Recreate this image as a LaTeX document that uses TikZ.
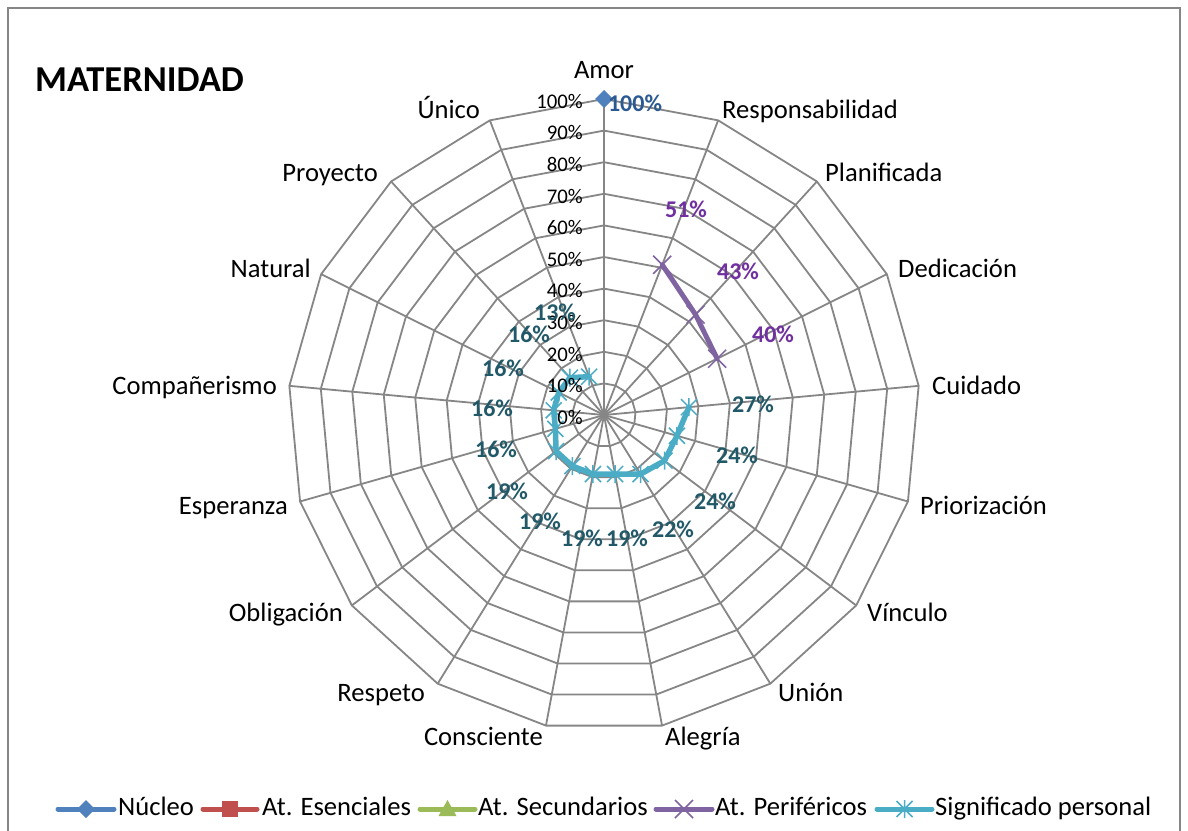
\documentclass[tikz,border=0pt]{standalone}
\usepackage{fontspec}
\setmainfont{Carlito}
\usetikzlibrary{calc}
\definecolor{gridc}{HTML}{868686}
\definecolor{nucleo}{HTML}{4F81BD}
\definecolor{esen}{HTML}{C0504D}
\definecolor{secu}{HTML}{9BBB59}
\definecolor{peri}{HTML}{8064A2}
\definecolor{sig}{HTML}{4BACC6}
\definecolor{nucleolbl}{HTML}{2B5A93}
\definecolor{perilbl}{HTML}{7030A0}
\definecolor{siglbl}{HTML}{215968}
\tikzset{
 pics/diam/.style={code={\fill[nucleo] (0,-9) -- (9,0) -- (0,9) -- (-9,0) -- cycle;}},
 pics/sqm/.style={code={\fill[esen] (-8,-8) rectangle (8,8);}},
 pics/trim/.style={code={\fill[secu] (0,-9) -- (9,7) -- (-9,7) -- cycle;}},
 pics/crossm/.style={code={\draw[peri,line width=1.5pt] (-9,-9) -- (9,9) (-9,9) -- (9,-9);}},
 pics/starm/.style={code={\draw[sig,line width=1.5pt] (-8,-8) -- (8,8) (-8,8) -- (8,-8) (0,-9) -- (0,9);}},
}
\begin{document}
\begin{tikzpicture}[x=1pt,y=-1pt,
  gridline/.style={draw=gridc,line width=1.8pt},
  cat/.style={inner sep=0pt,font=\fontsize{26.6}{30}\selectfont},
  pct/.style={inner sep=0pt,anchor=mid east,font=\fontsize{20.8}{24}\selectfont},
  val/.style={inner sep=0pt,font=\bfseries\fontsize{24}{28}\selectfont},
  leg/.style={inner sep=0pt,anchor=mid west,font=\fontsize{26.6}{30}\selectfont},
  perline/.style={draw=peri,line width=5pt,line join=round,line cap=round},
  sigline/.style={draw=sig,line width=5.5pt,line join=round,line cap=round},
  legline/.style={line width=5pt,line cap=round},
]
\useasboundingbox (0,0) rectangle (1188,830);
\fill[white] (0,0) rectangle (1188,830);
\draw[gridc,line width=1.8pt] (8,845) -- (8,8) -- (1180,8) -- (1180,845);

\node[inner sep=0pt,anchor=mid west,font=\bfseries\fontsize{36.5}{40}\selectfont] (title) at (35,89) {MATERNIDAD};

\begin{scope}[shift={(604,415)}]
  \coordinate (C) at (0,0);
  % grid polygons
  \foreach \lvl in {1,...,10} {
    \draw[gridline,line join=round] (-90:\lvl*31.6) \foreach \k in {1,...,16} { -- (\k*360/17-90:\lvl*31.6) } -- cycle;
  }
  % spokes
  \foreach \k in {0,...,16} { \draw[gridline] (C) -- (\k*360/17-90:316); }
  % data points
  \coordinate (n0) at (-90:316);
  \foreach \k/\v in {1/51,2/43,3/40} { \coordinate (p\k) at (\k*360/17-90:\v*3.16); }
  \foreach \k/\v in {4/27,5/24,6/24,7/22,8/19,9/19,10/19,11/19,12/16,13/16,14/16,15/16,16/13} { \coordinate (s\k) at (\k*360/17-90:\v*3.16); }
\end{scope}

% series
\draw[perline] (p1) -- (p2) -- (p3);
\draw[sigline] (s4) -- (s5) -- (s6) -- (s7) -- (s8) -- (s9) -- (s10) -- (s11) -- (s12) -- (s13) -- (s14) -- (s15) -- (s16);
\foreach \k in {1,2,3} { \pic at (p\k) {crossm}; }
\foreach \k in {4,...,16} { \pic at (s\k) {starm}; }
\pic at (n0) {diam};

% axis percentages
\foreach \i/\t in {0/0\%,1/10\%,2/20\%,3/30\%,4/40\%,5/50\%,6/60\%,7/70\%,8/80\%,9/90\%,10/100\%} {
  \node[pct] (ax\i) at (583,422-\i*31.6) {\t};
}

% category labels
\node[cat,anchor=mid] (amor) at (604,76) {Amor};
\node[cat,anchor=mid west] (resp) at (722,116) {Responsabilidad};
\node[cat,anchor=mid west] (plan) at (825,179) {Planificada};
\node[cat,anchor=mid west] (dedi) at (898,275) {Dedicación};
\node[cat,anchor=mid west] (cuid) at (932,392) {Cuidado};
\node[cat,anchor=mid west] (prio) at (920,512) {Priorización};
\node[cat,anchor=mid west] (vinc) at (867,619) {Vínculo};
\node[cat,anchor=mid west] (unio) at (778,699) {Unión};
\node[cat,anchor=mid west] (aleg) at (665,743) {Alegría};
\node[cat,anchor=mid east] (cons) at (543,743) {Consciente};
\node[cat,anchor=mid east] (resq) at (425,699) {Respeto};
\node[cat,anchor=mid east] (obli) at (343,619) {Obligación};
\node[cat,anchor=mid east] (espe) at (288,512) {Esperanza};
\node[cat,anchor=mid east] (comp) at (277,392) {Compañerismo};
\node[cat,anchor=mid east] (natu) at (311,275) {Natural};
\node[cat,anchor=mid east] (proy) at (378,179) {Proyecto};
\node[cat,anchor=mid east] (unic) at (480,116) {Único};

% value labels
\node[val,text=nucleolbl] (v0) at (635,103) {100\%};
\node[val,text=perilbl] (v1) at (686,209) {51\%};
\node[val,text=perilbl] (v2) at (738,271) {43\%};
\node[val,text=perilbl] (v3) at (773,334) {40\%};
\foreach \n/\x/\y/\t in {4/753/404/27,5/737/455/24,6/715/501/24,7/673/529/22,8/627/538/19,9/582/538/19,10/540/521/19,11/507/491/19,12/496/449/16,13/492/408/16,14/503/368/16,15/529/334/16,16/555/312/13} {
  \node[val,text=siglbl] (v\n) at (\x,\y) {\t\%};
}

% legend
\coordinate (la1) at (58,809); \coordinate (lb1) at (114,809);
\draw[legline,nucleo] (la1) -- (lb1);
\pic at ($(la1)!0.5!(lb1)$) {diam};
\node[leg] (lt1) at (118,813) {Núcleo};
\coordinate (la2) at (203,809); \coordinate (lb2) at (257,809);
\draw[legline,esen] (la2) -- (lb2);
\pic at ($(la2)!0.5!(lb2)$) {sqm};
\node[leg] (lt2) at (262,813) {At. Esenciales};
\coordinate (la3) at (420,809); \coordinate (lb3) at (475,809);
\draw[legline,secu] (la3) -- (lb3);
\pic at ($(la3)!0.5!(lb3)$) {trim};
\node[leg] (lt3) at (478,813) {At. Secundarios};
\coordinate (la4) at (656,809); \coordinate (lb4) at (712,809);
\draw[legline,peri] (la4) -- (lb4);
\pic at ($(la4)!0.5!(lb4)$) {crossm};
\node[leg] (lt4) at (715,813) {At. Periféricos};
\coordinate (la5) at (877,809); \coordinate (lb5) at (932,809);
\draw[legline,sig] (la5) -- (lb5);
\pic at ($(la5)!0.5!(lb5)$) {starm};
\node[leg] (lt5) at (935,813) {Significado personal};
\end{tikzpicture}
\end{document}
